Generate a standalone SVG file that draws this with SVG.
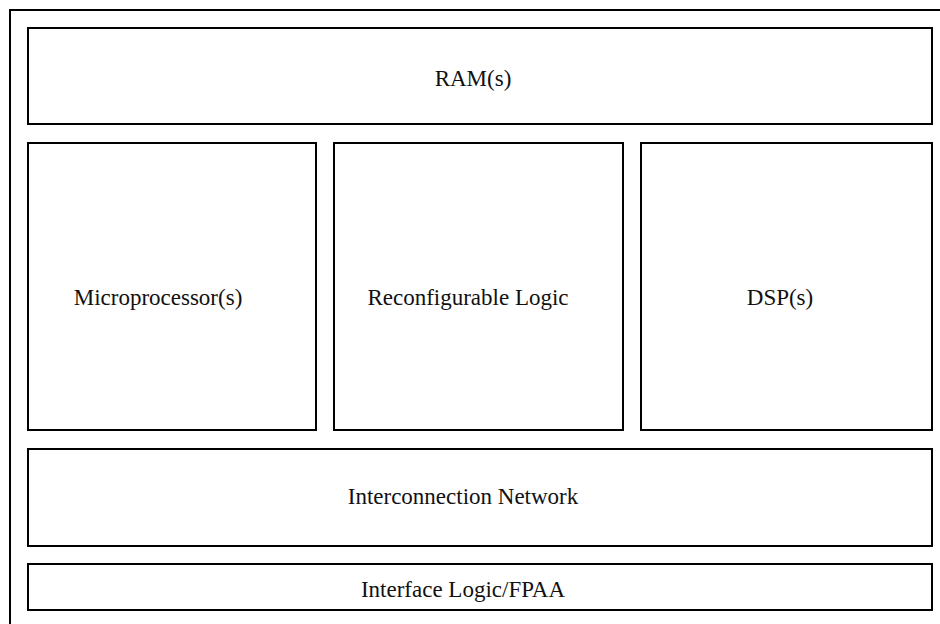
<svg xmlns="http://www.w3.org/2000/svg" width="940" height="624" viewBox="0 0 940 624">
<style>
.box{fill:#fff;stroke:#000;stroke-width:2}
.lbl{font-family:"Liberation Serif","Times New Roman",serif;font-size:23px;fill:#111;text-anchor:middle}
</style>
<rect width="940" height="624" fill="#fff"/>
<g id="frame"><rect class="box" x="10" y="10" width="940" height="624"/></g>
<g id="ram"><rect class="box" x="28" y="28" width="904" height="96"/><text class="lbl" x="473" y="86">RAM(s)</text></g>
<g id="microprocessor"><rect class="box" x="28" y="143" width="288" height="287"/><text class="lbl" x="158" y="305">Microprocessor(s)</text></g>
<g id="reconfigurable"><rect class="box" x="334" y="143" width="289" height="287"/><text class="lbl" x="468" y="305">Reconfigurable Logic</text></g>
<g id="dsp"><rect class="box" x="641" y="143" width="291" height="287"/><text class="lbl" x="780" y="305">DSP(s)</text></g>
<g id="interconnect"><rect class="box" x="28" y="449" width="904" height="97"/><text class="lbl" x="463" y="504">Interconnection Network</text></g>
<g id="interface"><rect class="box" x="28" y="564" width="904" height="46"/><text class="lbl" x="463" y="597">Interface Logic/FPAA</text></g>
<g id="connectors"></g>
</svg>
